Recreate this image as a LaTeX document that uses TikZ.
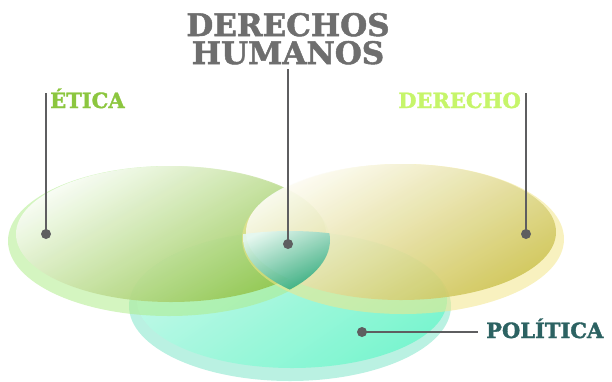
\documentclass[tikz,border=0pt]{standalone}
\usepackage{fontspec}
\setmainfont{DejaVu Serif}[BoldFeatures={FakeBold=1.6}]
\usetikzlibrary{positioning,shapes.geometric}

\definecolor{titlegray}{HTML}{6E6E6E}
\definecolor{dotgray}{HTML}{5E5E60}
\definecolor{eticatext}{HTML}{8CC63F}
\definecolor{derechotext}{HTML}{C6F56A}
\definecolor{politicatext}{HTML}{2C6262}
\definecolor{eticarim}{HTML}{B0EC8C}
\definecolor{eticabody}{HTML}{90C244}
\definecolor{derechorim}{HTML}{F2E68A}
\definecolor{derechobody}{HTML}{CCC250}
\definecolor{politicarim}{HTML}{8CE8CE}
\definecolor{politicabody}{HTML}{70F6CC}
\definecolor{centrotop}{HTML}{E4F8F2}
\definecolor{centrobody}{HTML}{14A070}

\begin{document}
\begin{tikzpicture}[x=1pt, y=-1pt,
    disc/.style={ellipse, inner sep=0pt, minimum width=322pt, minimum height=150pt},
    discbody/.style={ellipse, inner sep=0pt, minimum width=310pt, minimum height=136pt},
    dot/.style={circle, fill=dotgray, inner sep=0pt, minimum size=10pt},
    leader/.style={draw=dotgray, line width=1.6pt},
    title/.style={font=\bfseries\fontsize{31}{31}\selectfont, text=titlegray, inner sep=0pt},
    label/.style={font=\bfseries\fontsize{21}{21}\selectfont, inner sep=0pt}
]
\useasboundingbox (0,0) rectangle (612,381);

% Politica
\node[disc, fill=politicarim, fill opacity=0.6] (politica) at (290,306) {};
\node[discbody, top color=politicabody!40, bottom color=politicabody, shading angle=35, fill opacity=0.85] (politica_in) at (292,300) {};

% Etica
\node[disc, fill=eticarim, fill opacity=0.55] (etica) at (169,241) {};
\node[discbody, top color=white, bottom color=eticabody, shading angle=30, fill opacity=0.85] (etica_in) at (171,234) {};

% Derecho
\node[disc, fill=derechorim, fill opacity=0.55] (derecho) at (403,239) {};
\node[discbody, top color=white, bottom color=derechobody, shading angle=30, fill opacity=0.85] (derecho_in) at (401,232) {};

% Centro: Derechos Humanos
\begin{scope}
\clip (169,240) ellipse [x radius=161pt, y radius=75pt];
\clip (403,238) ellipse [x radius=160pt, y radius=73pt];
\clip (290,306) ellipse [x radius=162pt, y radius=75pt];
\shade[top color=centrotop, bottom color=centrobody, shading angle=25, fill opacity=0.9] (240,228) rectangle (336,296);
\end{scope}

% Labels
\node[title, anchor=base] (titulo_a) at (288,36) {DERECHOS};
\node[title, anchor=base] (titulo_b) at (288,64) {HUMANOS};
\node[label, text=eticatext, anchor=base west] (etica_lbl) at (50,108) {ÉTICA};
\node[label, text=derechotext, anchor=base east] (derecho_lbl) at (521,108) {DERECHO};
\node[label, text=politicatext, anchor=base west] (politica_lbl) at (486,338) {POLÍTICA};

% Dots and leaders
\node[dot] (etica_dot) at (46,234) {};
\node[dot] (derecho_dot) at (526,234) {};
\node[dot] (centro_dot) at (288,244) {};
\node[dot] (politica_dot) at (362,332) {};

\coordinate (etica_top) at (46,93);
\coordinate (derecho_top) at (526,93);
\coordinate (centro_top) at (288,69);
\coordinate (politica_end) at (478,332);

\draw[leader] (etica_dot.center) -- (etica_top);
\draw[leader] (derecho_dot.center) -- (derecho_top);
\draw[leader] (centro_dot.center) -- (centro_top);
\draw[leader] (politica_dot.center) -- (politica_end);

\end{tikzpicture}
\end{document}
